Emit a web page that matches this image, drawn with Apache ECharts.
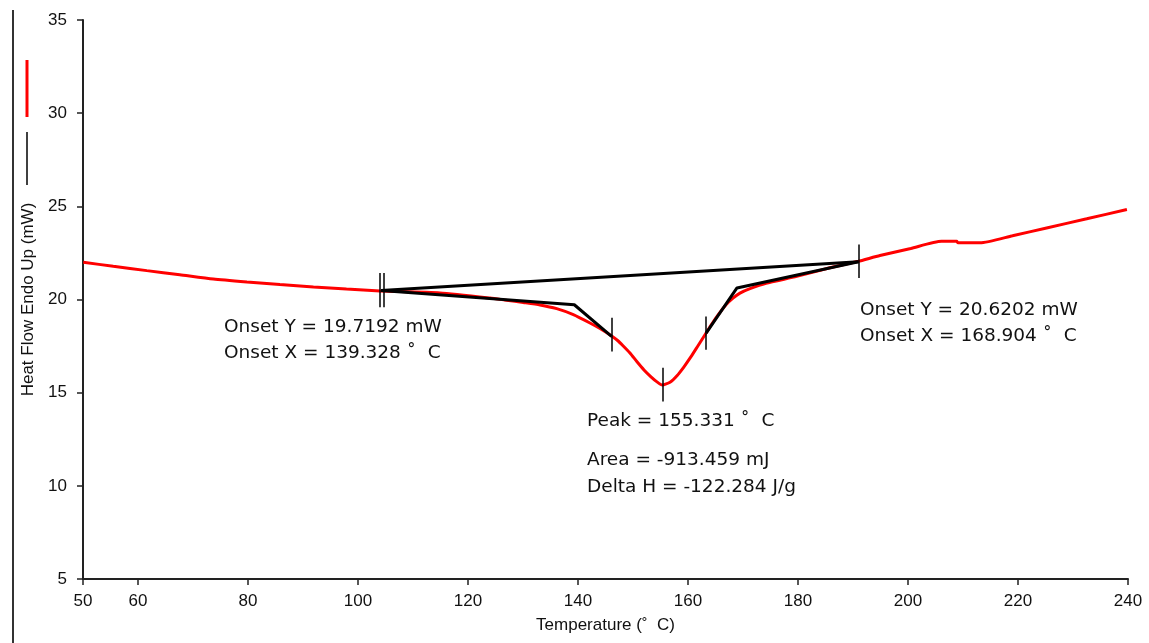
<!DOCTYPE html>
<html>
<head>
<meta charset="utf-8">
<script src="https://cdn.jsdelivr.net/npm/echarts@6/dist/echarts.min.js"></script>
<style>
html,body{margin:0;padding:0;background:#fff;}
#c{width:1149px;height:643px;}
</style>
</head>
<body>
<div id="c"></div>
<script>
// ---- data ----
var tempC = [50.05, 55.5, 61.6, 67.6, 73.7, 79.8, 85.8, 91.9, 97.9, 104.0, 114.9, 124.0, 127.0, 130.05, 133.1, 136.13, 139.15, 142.18, 144.0, 146.18, 147.2, 148.18, 149.45, 150.73, 152.0, 153.27, 154.36, 155.33, 156.73, 158.0, 159.27, 160.55, 161.82, 163.09, 164.36, 165.64, 166.91, 168.18, 169.45, 171.27, 174.18, 179.76, 185.8, 190.96, 194.9, 200.5, 206.1, 208.85, 209.1, 213.1, 219.0, 225.2, 232.5, 239.8];
var heatFlow = [22.0, 21.78, 21.55, 21.33, 21.10, 20.94, 20.80, 20.67, 20.56, 20.46, 20.35, 20.08, 19.96, 19.84, 19.71, 19.51, 19.19, 18.74, 18.44, 18.03, 17.80, 17.52, 17.13, 16.66, 16.22, 15.85, 15.58, 15.41, 15.56, 15.91, 16.39, 16.93, 17.52, 18.11, 18.70, 19.24, 19.72, 20.07, 20.34, 20.58, 20.87, 21.24, 21.70, 22.05, 22.36, 22.74, 23.12, 23.12, 23.04, 23.04, 23.42, 23.84, 24.33, 24.83];

var baselineT = [104.2, 191.0];
var baselineV = [20.48, 22.03];

var leftOnsetT = [104.2, 139.328, 146.1];
var leftOnsetV = [20.48, 19.7192, 18.02];

var rightOnsetT = [191.0, 168.904, 163.3];
var rightOnsetV = [22.03, 20.6202, 18.2];

var markerT = [103.87, 104.6, 146.1, 155.331, 163.3, 191.0];
var markerLow = [19.58, 19.58, 17.21, 14.53, 17.3, 21.16];
var markerHigh = [21.42, 21.42, 19.02, 16.34, 19.09, 22.95];

var xTickValues = [50, 60, 80, 100, 120, 140, 160, 180, 200, 220, 240];

var annotations = [
  'Onset Y = 19.7192 mW', 'Onset X = 139.328 \u02DA  C',
  'Onset Y = 20.6202 mW', 'Onset X = 168.904 \u02DA  C',
  'Peak = 155.331 \u02DA  C',
  'Area = -913.459 mJ', 'Delta H = -122.284 J/g'
];

// ---- build ----
function zip(a, b) { return a.map(function (v, i) { return [v, b[i]]; }); }

var chart = echarts.init(document.getElementById('c'), null, {renderer: 'canvas'});

var annFont = {fontFamily: 'DejaVu Sans', fontSize: 18.5, fill: '#111'};
function ann(text, x, y) {
  return {type: 'text', left: x, top: y - 11, z: 50,
    style: Object.assign({text: text}, annFont)};
}

var option = {
  animation: false,
  backgroundColor: '#ffffff',
  grid: {left: 83, right: 21, top: 20, bottom: 64, containLabel: false},
  xAxis: {
    type: 'value', min: 50, max: 240,
    name: 'Temperature (\u02DA  C)', nameLocation: 'middle', nameGap: 38,
    nameTextStyle: {fontFamily: 'Liberation Sans', fontSize: 17, color: '#111'},
    axisLine: {show: true, lineStyle: {color: '#222', width: 2}},
    axisTick: {show: true, length: 6, customValues: xTickValues, lineStyle: {color: '#222', width: 1.5}},
    axisLabel: {customValues: xTickValues, margin: 14, fontFamily: 'Liberation Sans', fontSize: 17, color: '#111'},
    splitLine: {show: false}
  },
  yAxis: {
    type: 'value', min: 5, max: 35, interval: 5,
    name: 'Heat Flow Endo Up (mW)', nameLocation: 'middle', nameGap: 46,
    nameTextStyle: {fontFamily: 'Liberation Sans', fontSize: 17, color: '#111'},
    axisLine: {show: true, lineStyle: {color: '#222', width: 2}},
    axisTick: {show: true, length: 6, lineStyle: {color: '#222', width: 1.5}},
    axisLabel: {margin: 16, fontFamily: 'Liberation Sans', fontSize: 17, color: '#111'},
    splitLine: {show: false}
  },
  series: [
    {type: 'line', data: zip(tempC, heatFlow), showSymbol: false, symbol: 'none', smooth: 0.2,
     lineStyle: {color: '#ff0000', width: 3}, z: 2},
    {type: 'line', data: zip(baselineT, baselineV), symbol: 'none',
     lineStyle: {color: '#000', width: 3}, z: 3},
    {type: 'line', data: zip(leftOnsetT, leftOnsetV), symbol: 'none',
     lineStyle: {color: '#000', width: 3}, z: 3},
    {type: 'line', data: zip(rightOnsetT, rightOnsetV), symbol: 'none',
     lineStyle: {color: '#000', width: 3}, z: 3},
    {type: 'lines', coordinateSystem: 'cartesian2d', polyline: false, z: 4,
     lineStyle: {color: '#000', width: 1.5, opacity: 1},
     data: markerT.map(function (t, i) { return {coords: [[t, markerLow[i]], [t, markerHigh[i]]]}; })}
  ],
  graphic: [
    {type: 'line', shape: {x1: 13, y1: 10, x2: 13, y2: 643}, style: {stroke: '#333', lineWidth: 2}},
    {type: 'line', shape: {x1: 27, y1: 60, x2: 27, y2: 117}, style: {stroke: '#ff0000', lineWidth: 3}},
    {type: 'line', shape: {x1: 27, y1: 132, x2: 27, y2: 185}, style: {stroke: '#000', lineWidth: 1.5}},
    ann(annotations[0], 224, 329),
    ann(annotations[1], 224, 355),
    ann(annotations[2], 860, 312),
    ann(annotations[3], 860, 338),
    ann(annotations[4], 587, 423),
    ann(annotations[5], 587, 462),
    ann(annotations[6], 587, 489)
  ]
};
chart.setOption(option);
</script>
</body>
</html>
